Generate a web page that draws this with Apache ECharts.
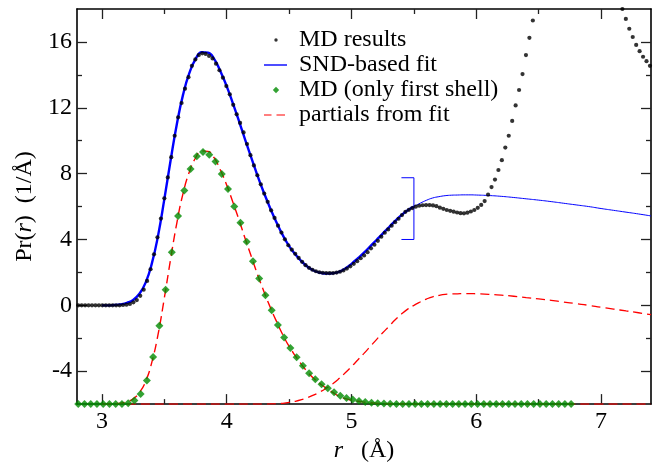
<!DOCTYPE html>
<html>
<head>
<meta charset="utf-8">
<script src="https://cdn.jsdelivr.net/npm/echarts@6/dist/echarts.min.js"></script>
<style>
  html, body { margin: 0; padding: 0; background: #ffffff; }
  #chart { width: 661px; height: 468px; }
</style>
</head>
<body>
<div id="chart"></div>
<script>
// ---- radial distribution data, Pr(r) in 1/Å ----

// MD results on a uniform r grid
const mdStart = 2.81;
const mdStep = 0.0276;
const mdTotal = [
  0, 0, 0, 0, 0, 0, 0, 0, 0, 0, 0, 0, 0,
  0.02, 0.04, 0.08, 0.18, 0.32, 0.58, 0.95, 1.48, 2.19, 3.1,
  4.13, 5.27, 6.5, 7.77, 9.0, 10.3, 11.42, 12.29, 13.16, 13.86,
  14.55, 14.94, 15.2, 15.31, 15.27, 15.15, 15.0, 14.68, 14.28, 13.83,
  13.32, 12.82, 12.18, 11.6, 11.08, 10.5, 9.8, 9.12, 8.5, 7.9,
  7.35, 6.79, 6.29, 5.77, 5.31, 4.84, 4.42, 4.01, 3.65, 3.38,
  3.13, 2.88, 2.64, 2.44, 2.28, 2.16, 2.07, 2.01, 1.98, 1.96,
  1.95, 1.96, 1.99, 2.04, 2.12, 2.23, 2.37, 2.52, 2.68, 2.86,
  3.03, 3.23, 3.46, 3.68, 3.92, 4.17, 4.41, 4.61, 4.84, 5.05,
  5.26, 5.48, 5.68, 5.8, 5.91, 5.99, 6.05, 6.08, 6.09, 6.09,
  6.07, 6.02, 5.93, 5.86, 5.79, 5.74, 5.69, 5.64, 5.6, 5.59,
  5.63, 5.7, 5.79, 5.92, 6.1, 6.33, 6.72, 7.18, 7.64, 8.22,
  8.82, 9.58, 10.3, 11.2, 12.14, 13.08, 14.05, 15.2, 16.25, 17.3,
  18.3, 19.1, 19.8, 20.4, 21.0, 21.6, 22.2, 22.7, 23.1, 23.5,
  23.7, 23.9, 23.9, 23.8, 23.6, 23.3, 22.9, 22.5, 22.0, 21.5,
  21.0, 20.4, 19.8, 19.2, 18.6, 18.0, 17.4, 16.8, 16.3, 15.82,
  15.44, 15.1, 14.83, 14.55
];

// MD restricted to the first coordination shell
const shellStart = 2.81;
const shellStep = 0.05;
const mdShell = [
  0, 0, 0, 0, 0, 0, 0,
  0.01, 0.05, 0.22, 0.62, 1.44, 2.86, 4.76, 6.95, 9.23, 11.42,
  12.97, 14.28, 15.05, 15.31, 15.15, 14.73, 13.98, 13.07, 12.01, 11.02,
  9.86, 8.67, 7.63, 6.61, 5.7, 4.8, 4.05, 3.41, 2.85, 2.33,
  1.87, 1.51, 1.21, 0.97, 0.72, 0.51, 0.37, 0.28, 0.19, 0.12,
  0.08, 0.05, 0.03, 0.02, 0.01,
  0, 0, 0, 0, 0, 0, 0, 0, 0, 0, 0, 0, 0, 0,
  0, 0, 0, 0, 0, 0, 0, 0, 0, 0, 0, 0, 0, 0
];

// SND-based fit, inside the fitted range
const fitNearR = [
  3.0, 3.05, 3.1, 3.15, 3.2, 3.25, 3.3, 3.35, 3.4, 3.45,
  3.5, 3.55, 3.6, 3.65, 3.7, 3.75, 3.8, 3.85, 3.9, 3.95,
  4.0, 4.05, 4.1, 4.15, 4.2, 4.25, 4.3, 4.35, 4.4, 4.45,
  4.5, 4.55, 4.6, 4.65, 4.7, 4.75, 4.8, 4.85, 4.9, 4.95,
  5.0, 5.05, 5.1, 5.15, 5.2, 5.25, 5.3, 5.35, 5.4, 5.45, 5.5
];
const fitNearV = [
  0, 0, 0.02, 0.06, 0.15, 0.32, 0.7, 1.38, 2.55, 4.25,
  6.45, 8.8, 11.0, 12.8, 14.1, 14.95, 15.38, 15.35, 14.95, 14.2,
  13.3, 12.25, 11.15, 10.0, 8.9, 7.8, 6.8, 5.87, 5.02, 4.25,
  3.6, 3.1, 2.67, 2.33, 2.1, 1.98, 1.93, 1.95, 2.03, 2.23,
  2.52, 2.85, 3.2, 3.58, 3.97, 4.36, 4.74, 5.13, 5.48, 5.77, 6.0
];

// SND-based fit, extrapolated beyond the fitted range
const fitFarR = [
  5.5, 5.55, 5.6, 5.65, 5.7, 5.75, 5.8, 5.85, 5.9, 5.95,
  6.0, 6.1, 6.2, 6.3, 6.4, 6.5, 6.6, 6.7, 6.8, 6.9,
  7.0, 7.1, 7.2, 7.3, 7.4
];
const fitFarV = [
  6.0, 6.2, 6.38, 6.52, 6.6, 6.66, 6.69, 6.7, 6.71, 6.71,
  6.7, 6.67, 6.62, 6.55, 6.47, 6.39, 6.3, 6.2, 6.1, 6.0,
  5.88, 5.77, 5.66, 5.55, 5.43
];

// bracket marking the upper end of the fitted range
const bracketR = [5.4, 5.5, 5.5, 5.4];
const bracketV = [7.75, 7.75, 4.0, 4.0];

// partials from the fit (first and second shell)
const partial1R = [
  3.0, 3.05, 3.1, 3.15, 3.2, 3.25, 3.3, 3.35, 3.4, 3.45,
  3.5, 3.55, 3.6, 3.65, 3.7, 3.75, 3.8, 3.85, 3.9, 3.95,
  4.0, 4.05, 4.1, 4.15, 4.2, 4.25, 4.3, 4.35, 4.4, 4.45,
  4.5, 4.55, 4.6, 4.65, 4.7, 4.75, 4.8, 4.85, 4.9, 4.95,
  5.0, 5.05, 5.1, 5.15, 5.2, 5.25, 5.3, 5.35, 5.4, 5.45,
  5.5, 6.0, 6.5, 7.0, 7.4
];
const partial1V = [
  0, 0, 0.02, 0.06, 0.15, 0.32, 0.7, 1.38, 2.55, 4.25,
  6.45, 8.8, 11.0, 12.8, 14.1, 14.95, 15.38, 15.35, 14.95, 14.2,
  13.3, 12.25, 11.15, 10.0, 8.9, 7.8, 6.8, 5.86, 5.0, 4.2,
  3.5, 2.93, 2.4, 1.93, 1.54, 1.23, 0.95, 0.71, 0.48, 0.33,
  0.24, 0.17, 0.12, 0.08, 0.05, 0.03, 0.02, 0.01, 0.01, 0,
  0, 0, 0, 0, 0
];
const partial2R = [
  3.2, 3.6, 4.0, 4.3, 4.35, 4.4, 4.45,
  4.5, 4.55, 4.6, 4.65, 4.7, 4.75, 4.8, 4.85, 4.9, 4.95,
  5.0, 5.05, 5.1, 5.15, 5.2, 5.25, 5.3, 5.35, 5.4, 5.45,
  5.5, 5.55, 5.6, 5.65, 5.7, 5.75, 5.8, 5.85, 5.9, 5.95,
  6.0, 6.1, 6.2, 6.3, 6.4, 6.5, 6.6, 6.7, 6.8, 6.9,
  7.0, 7.1, 7.2, 7.3, 7.4
];
const partial2V = [
  0, 0, 0, 0, 0.01, 0.02, 0.05,
  0.1, 0.17, 0.27, 0.4, 0.56, 0.75, 0.98, 1.24, 1.55, 1.9,
  2.28, 2.68, 3.08, 3.5, 3.92, 4.33, 4.72, 5.12, 5.47, 5.77,
  6.0, 6.2, 6.38, 6.52, 6.6, 6.66, 6.69, 6.7, 6.71, 6.71,
  6.7, 6.67, 6.62, 6.55, 6.47, 6.39, 6.3, 6.2, 6.1, 6.0,
  5.88, 5.77, 5.66, 5.55, 5.43
];

// first-shell curves are shifted down for readability
const shellOffset = -6;

// axis ticks
const xMajorTicks = [3, 4, 5, 6, 7];
const xMinorTicks = [3.5, 4.5, 5.5, 6.5];
const yMajorTicks = [-4, 0, 4, 8, 12, 16];
const yMinorTicks = [-2, 2, 6, 10, 14];

// ---- chart ----
const FONT = '"Liberation Serif", "DejaVu Serif", serif';
const pairs = (xs, ys, dy) => xs.map((x, i) => [x, ys[i] + (dy || 0)]);

const mdData = mdTotal.map((v, i) => [mdStart + i * mdStep, v]);
const shellData = mdShell.map((v, i) => [shellStart + i * shellStep, v + shellOffset]);

const X_MIN = 2.8, X_MAX = 7.4, Y_MIN = -6, Y_MAX = 18;

function xAxisDef(position, ticks, len, withLabels, showLine) {
  return {
    type: 'value', position, min: X_MIN, max: X_MAX,
    splitLine: { show: false },
    axisLine: { show: showLine, onZero: false, lineStyle: { color: '#000', width: 1.6 } },
    axisTick: { show: true, inside: true, length: len, customValues: ticks,
                lineStyle: { color: '#222', width: 1.3 } },
    axisLabel: withLabels
      ? { show: true, customValues: ticks, margin: 6, color: '#000',
          fontFamily: FONT, fontSize: 24 }
      : { show: false }
  };
}
function yAxisDef(position, ticks, len, withLabels, showLine) {
  return {
    type: 'value', position, min: Y_MIN, max: Y_MAX,
    splitLine: { show: false },
    axisLine: { show: showLine, onZero: false, lineStyle: { color: '#000', width: 1.6 } },
    axisTick: { show: true, inside: true, length: len, customValues: ticks,
                lineStyle: { color: '#222', width: 1.3 } },
    axisLabel: withLabels
      ? { show: true, customValues: ticks, margin: 5, color: '#000',
          fontFamily: FONT, fontSize: 24 }
      : { show: false }
  };
}

const xMain = xAxisDef('bottom', xMajorTicks, 10, true, true);
xMain.name = '{i|r}{n|   (Å)}';
xMain.nameLocation = 'middle';
xMain.nameGap = 29;
xMain.nameTextStyle = {
  rich: {
    i: { fontFamily: FONT, fontSize: 24, fontStyle: 'italic', color: '#000' },
    n: { fontFamily: FONT, fontSize: 24, color: '#000' }
  }
};

const yMain = yAxisDef('left', yMajorTicks, 10, true, true);
yMain.name = '{n|Pr(}{i|r}{n|)  (1/Å)}';
yMain.nameLocation = 'middle';
yMain.nameRotate = 90;
yMain.nameGap = 33;
yMain.nameTextStyle = {
  rich: {
    i: { fontFamily: FONT, fontSize: 24, fontStyle: 'italic', color: '#000' },
    n: { fontFamily: FONT, fontSize: 24, color: '#000' }
  }
};

// legend glyphs drawn inside a fixed 24x14 box
const ICON_BOX = 'M0,0M24,14';
const icons = {
  dot: 'path://' + ICON_BOX + 'M10.3,7a1.7,1.7 0 1,0 3.4,0a1.7,1.7 0 1,0 -3.4,0Z',
  line: 'path://' + ICON_BOX + 'M0,6.3H23V7.7H0Z',
  diamond: 'path://' + ICON_BOX + 'M12,3.8L15.2,7L12,10.2L8.8,7Z',
  dashed: 'path://' + ICON_BOX + 'M0,6.4H7.5V7.6H0Z M12.5,6.4H21V7.6H12.5Z'
};

const option = {
  animation: false,
  backgroundColor: '#ffffff',
  grid: { left: 77, right: 10, top: 9, bottom: 57, containLabel: false },
  legend: {
    orient: 'vertical',
    left: 259,
    top: 23,
    itemWidth: 24,
    itemHeight: 14,
    itemGap: 1,
    selectedMode: false,
    textStyle: { fontFamily: FONT, fontSize: 24, color: '#000', padding: [0, 0, 0, 6] },
    data: [
      { name: 'MD results', icon: icons.dot, itemStyle: { color: '#000', borderWidth: 0 } },
      { name: 'SND-based fit', icon: icons.line, itemStyle: { color: '#0000ff', borderWidth: 0 } },
      { name: 'MD (only first shell)', icon: icons.diamond, itemStyle: { color: '#008b00', borderWidth: 0 } },
      { name: 'partials from fit', icon: icons.dashed, itemStyle: { color: '#ff0000', borderWidth: 0 } }
    ]
  },
  xAxis: [
    xMain,
    xAxisDef('bottom', xMinorTicks, 5, false, false),
    xAxisDef('top', xMajorTicks, 10, false, true),
    xAxisDef('top', xMinorTicks, 5, false, false)
  ],
  yAxis: [
    yMain,
    yAxisDef('left', yMinorTicks, 5, false, false),
    yAxisDef('right', yMajorTicks, 10, false, true),
    yAxisDef('right', yMinorTicks, 5, false, false)
  ],
  series: [
    {
      name: 'SND-based fit', type: 'line', data: pairs(fitNearR, fitNearV),
      showSymbol: false, symbol: 'none', smooth: true, z: 3,
      lineStyle: { color: '#0000ff', width: 2.4 }, itemStyle: { color: '#0000ff' }
    },
    {
      name: 'SND-based fit', type: 'line', data: pairs(fitFarR, fitFarV),
      showSymbol: false, symbol: 'none', smooth: true, z: 3,
      lineStyle: { color: '#0000ff', width: 1 }, itemStyle: { color: '#0000ff' }
    },
    {
      name: 'fit range', type: 'line', data: pairs(bracketR, bracketV),
      showSymbol: false, symbol: 'none', z: 3,
      lineStyle: { color: '#0000ff', width: 1 }
    },
    {
      name: 'partials from fit', type: 'line', data: pairs(partial1R, partial1V, shellOffset),
      showSymbol: false, symbol: 'none', smooth: true, z: 4,
      lineStyle: { color: '#ff0000', width: 1.4, type: [9, 5] }, itemStyle: { color: '#ff0000' }
    },
    {
      name: 'partials from fit', type: 'line', data: pairs(partial2R, partial2V, shellOffset),
      showSymbol: false, symbol: 'none', smooth: true, z: 4,
      lineStyle: { color: '#ff0000', width: 1.3, type: [9, 5] }, itemStyle: { color: '#ff0000' }
    },
    {
      name: 'MD results', type: 'scatter', data: mdData, clip: true,
      symbol: 'circle', symbolSize: 4.2, z: 5,
      itemStyle: { color: '#000' }
    },
    {
      name: 'MD (only first shell)', type: 'scatter', data: shellData, clip: true,
      symbol: 'diamond', symbolSize: 8, z: 6,
      itemStyle: { color: '#008b00' }
    }
  ]
};

const chart = echarts.init(document.getElementById('chart'), null, { renderer: 'canvas' });
chart.setOption(option);
</script>
</body>
</html>
